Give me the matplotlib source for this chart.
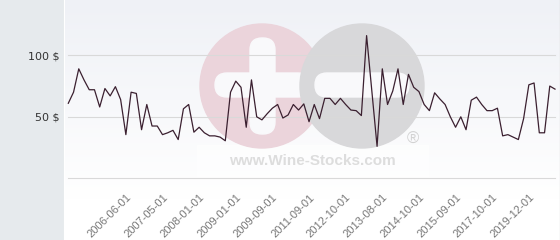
import numpy as np
import matplotlib.pyplot as plt
from matplotlib.patches import Rectangle, Circle, FancyBboxPatch
from matplotlib.colors import LinearSegmentedColormap

# prix (USD)
prices = [61, 70, 89, 80, 72, 72, 58, 73, 67, 74.5,
          64, 35.5, 70, 69, 39.5, 60, 42.5, 42.5, 35.5, 37,
          39, 31.5, 56.5, 60, 37.5, 41.5, 37, 34.5, 34.5, 33.5,
          30.5, 70, 79, 74, 41.5, 80, 50, 47.5, 52.5, 57,
          60, 49, 51.5, 60, 55.5, 60.5, 46, 60, 48.5, 65,
          65, 60, 65, 60, 55.5, 55, 51, 116, 71, 26,
          89, 60, 71, 89, 60, 84.5, 74, 70.5, 60, 55,
          69.5, 64.5, 60, 50, 41.5, 50, 39.5, 63.5, 66, 60,
          55, 55, 57, 34.5, 35.5, 33.5, 31.5, 48.5, 76, 77.5,
          37, 37, 75, 72.5]

tick_labels = ['2006-06-01', '2007-05-01', '2008-01-01', '2009-01-01',
               '2009-09-01', '2011-09-01', '2012-10-01', '2013-08-01',
               '2014-10-01', '2015-09-01', '2017-10-01', '2019-12-01']
tick_start = 11
tick_step = 7

y_ticks = [0, 50, 100]
y_labels = ['', '50 $', '100 $']

W, H = 560, 240
fig = plt.figure(figsize=(W / 100, H / 100), dpi=100)

# fond (pixels)
bg = fig.add_axes([0, 0, 1, 1])
bg.set_xlim(0, W)
bg.set_ylim(H, 0)
bg.axis('off')

cmap = LinearSegmentedColormap.from_list('bg', ['#eff1f6', '#ffffff'])
grad = np.linspace(0, 1, 200)[:, None]
bg.imshow(grad, cmap=cmap, extent=(63, W, 200, 0), aspect='auto', zorder=0)
bg.add_patch(Rectangle((63, 200), W - 63, 40, color='#ffffff', zorder=0))
bg.add_patch(Rectangle((0, 0), 63, H, color='#e6eaed', zorder=1))
bg.plot([63.5, 63.5], [0, H], color='#ffffff', lw=0.8, zorder=2)
bg.plot([559.5, 559.5], [0, H], color='#9a9a9a', lw=0.8, zorder=2)

# filigrane
bg.add_patch(Rectangle((197, 145), 231, 33, color='#ffffff', alpha=0.6, zorder=1))
bg.add_patch(Circle((262, 86), 62, color='#ebd4db', zorder=2))
bg.add_patch(FancyBboxPatch((250, 38), 25, 96, boxstyle='round,pad=0,rounding_size=12',
                            color='#f9f9fb', zorder=3))
bg.add_patch(FancyBboxPatch((215, 73), 95, 24, boxstyle='round,pad=0,rounding_size=12',
                            color='#f9f9fb', zorder=3))
bg.add_patch(Circle((362, 86), 62, color='#d8d8da', zorder=4))
bg.add_patch(FancyBboxPatch((315, 73), 94, 24, boxstyle='round,pad=0,rounding_size=12',
                            color='#f9f9fb', zorder=5))
bg.text(312, 161, 'www.Wine-Stocks.com', ha='center', va='center', fontsize=11,
        fontweight='bold', color='#dddddd', family='Liberation Sans', zorder=5)
bg.text(413, 139, '®', ha='center', va='center', fontsize=12,
        color='#d2d2d2', family='Liberation Sans', zorder=5)

# graphique
x0, x1 = 68.3, 555
y0, y1 = 178.3, 5
ax = fig.add_axes([x0 / W, (H - y0) / H, (x1 - x0) / W, (y0 - y1) / H])
ax.patch.set_visible(False)
for s in ax.spines.values():
    s.set_visible(False)

x = np.arange(len(prices))
ax.plot(x, prices, color='#3b2030', lw=0.9, zorder=3, clip_on=False)
ax.set_xlim(0, len(prices) - 1)
ax.set_ylim(0, (y0 - y1) / 1.23)

ax.set_yticks(y_ticks, y_labels, fontsize=8, color='#333333')
ax.yaxis.grid(True, color='#d9d9d9', lw=0.8)
for gl in ax.get_ygridlines():
    gl.set_clip_on(False)

ticks = [tick_start + tick_step * i for i in range(len(tick_labels))]
ax.set_xticks(ticks, tick_labels, rotation=45, ha='right', rotation_mode='anchor',
              fontsize=8, color='#777777', family='Liberation Sans')
ax.tick_params(axis='x', length=0, pad=10)
ax.tick_params(axis='y', length=0, pad=6.5)

fig.savefig('out.png', dpi=100)
